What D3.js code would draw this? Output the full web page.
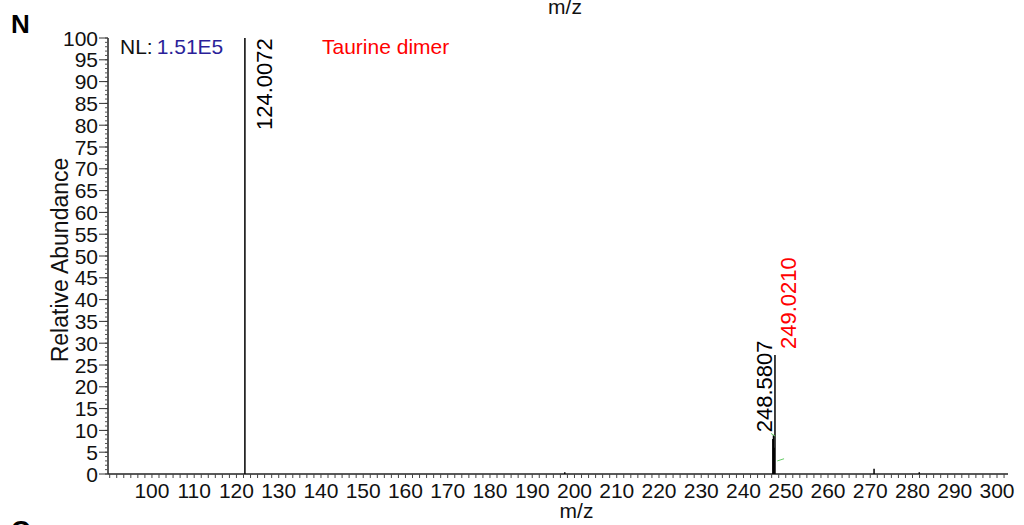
<!DOCTYPE html>
<html>
<head>
<meta charset="utf-8">
<script src="https://cdn.jsdelivr.net/npm/d3@7"></script>
<style>
  html, body { margin: 0; padding: 0; background: #fff; }
  svg { display: block; font-family: "Liberation Sans", Arial, sans-serif; }
</style>
</head>
<body>
<svg id="chart" width="1024" height="525"></svg>
<script>
// ---- data ----
const xTickLabels = [100, 110, 120, 130, 140, 150, 160, 170, 180, 190, 200, 210, 220, 230, 240, 250, 260, 270, 280, 290, 300];
const yTickLabels = [0, 5, 10, 15, 20, 25, 30, 35, 40, 45, 50, 55, 60, 65, 70, 75, 80, 85, 90, 95, 100];
// stick positions on the drawn m/z axis and their relative abundance
const peakMz        = [122.0, 246.95, 247.1, 247.25, 247.45, 197.7, 270.9, 281.6];
const peakIntensity = [100,   8.0,    8.9,   6.0,    27.3,   0.4,   1.2,   0.4];
// labelled peaks: which stick, its text, its colour
const labelPeakIndex = [0, 2, 4];
const labelText      = ["124.0072", "248.5807", "249.0210"];
const labelColor     = ["#000000", "#000000", "#ff0000"];
// small green annotation ticks (m/z, abundance pairs)
const greenMarks = [
  [[246.5, 9.3], [247.5, 8.7]],
  [[248.0, 3.0], [249.6, 3.5]]
];
const nlLabel = "NL:";
const nlValue = "1.51E5";
const titleText = "Taurine dimer";
const panelLetter = "N";
const nextPanelLetter = "O";
const xAxisTitle = "m/z";
const yAxisTitle = "Relative Abundance";

// ---- layout ----
const svg = d3.select("#chart");
const x = d3.scaleLinear().domain([89.6, 302.6]).range([108, 1008]);
const y = d3.scaleLinear().domain([0, 100]).range([474, 38]);
const fs = 21;

// axes lines
svg.append("line").attr("x1", x.range()[0]).attr("x2", x.range()[1])
  .attr("y1", y(0)).attr("y2", y(0)).attr("stroke", "#222").attr("stroke-width", 1.5);
svg.append("line").attr("x1", x.range()[0]).attr("x2", x.range()[0])
  .attr("y1", y(0)).attr("y2", y(100)).attr("stroke", "#222").attr("stroke-width", 1.5);

// y minor ticks every 1
svg.append("g").selectAll("line").data(d3.range(0, 101, 1)).join("line")
  .attr("x1", x.range()[0] - 3).attr("x2", x.range()[0])
  .attr("y1", d => y(d)).attr("y2", d => y(d))
  .attr("stroke", "#555").attr("stroke-width", 1);
// y major ticks + labels
svg.append("g").selectAll("line").data(yTickLabels).join("line")
  .attr("x1", x.range()[0] - 9).attr("x2", x.range()[0])
  .attr("y1", d => y(d)).attr("y2", d => y(d))
  .attr("stroke", "#333").attr("stroke-width", 1);
svg.append("g").selectAll("text").data(yTickLabels).join("text")
  .attr("x", x.range()[0] - 10).attr("y", d => y(d) + 7.5)
  .attr("text-anchor", "end").attr("font-size", fs).attr("fill", "#111")
  .text(d => d);

// x minor ticks
svg.append("g").selectAll("line").data(d3.range(90, 302.6, 5 / 3)).join("line")
  .attr("x1", d => x(d)).attr("x2", d => x(d))
  .attr("y1", y(0)).attr("y2", y(0) + 4)
  .attr("stroke", "#444").attr("stroke-width", 1);
svg.append("g").selectAll("text").data(xTickLabels).join("text")
  .attr("x", d => x(d)).attr("y", y(0) + 24)
  .attr("text-anchor", "middle").attr("font-size", fs).attr("fill", "#111")
  .text(d => d);

// axis titles
svg.append("text").attr("x", x(200) + 2).attr("y", 518).attr("text-anchor", "middle")
  .attr("font-size", fs).attr("fill", "#111").text(xAxisTitle);
svg.append("text").attr("x", 565).attr("y", 14).attr("text-anchor", "middle")
  .attr("font-size", fs).attr("fill", "#111").text(xAxisTitle);
svg.append("text").attr("transform", "translate(68,260) rotate(-90)")
  .attr("text-anchor", "middle").attr("font-size", 23).attr("fill", "#111").text(yAxisTitle);

// panel letters
svg.append("text").attr("x", 11).attr("y", 33).attr("font-size", 26).attr("font-weight", "bold")
  .attr("fill", "#000").text(panelLetter);
svg.append("text").attr("x", 11).attr("y", 539).attr("font-size", 26).attr("font-weight", "bold")
  .attr("fill", "#000").text(nextPanelLetter);

// NL and title
const nl = svg.append("text").attr("x", 120).attr("y", 54).attr("font-size", fs);
nl.append("tspan").attr("fill", "#111").text(nlLabel);
nl.append("tspan").attr("dx", 4).attr("fill", "#2b1f99").text(nlValue);
svg.append("text").attr("x", 322).attr("y", 54).attr("font-size", fs).attr("fill", "#ff0000").text(titleText);

// sticks
svg.append("g").selectAll("line").data(peakMz).join("line")
  .attr("x1", d => x(d)).attr("x2", d => x(d))
  .attr("y1", y(0)).attr("y2", (d, i) => y(peakIntensity[i]))
  .attr("stroke", "#000").attr("stroke-width", 1.5);

// green marks
svg.append("g").selectAll("line").data(greenMarks).join("line")
  .attr("x1", d => x(d[0][0])).attr("y1", d => y(d[0][1]))
  .attr("x2", d => x(d[1][0])).attr("y2", d => y(d[1][1]))
  .attr("stroke", "#66cc66").attr("stroke-width", 1);

// peak labels (rotated)
const labelDx = [27, -1.5, 21];
const labelDy = [92, -3, -6];
svg.append("g").selectAll("text").data(labelPeakIndex).join("text")
  .attr("transform", (k, i) => {
    const px = x(peakMz[k]) + labelDx[i];
    const py = i === 0 ? y(100) + labelDy[i] : y(peakIntensity[k]) + labelDy[i];
    return `translate(${px},${py}) rotate(-90)`;
  })
  .attr("font-size", fs + 1).attr("fill", (k, i) => labelColor[i])
  .text((k, i) => labelText[i]);
</script>
</body>
</html>
